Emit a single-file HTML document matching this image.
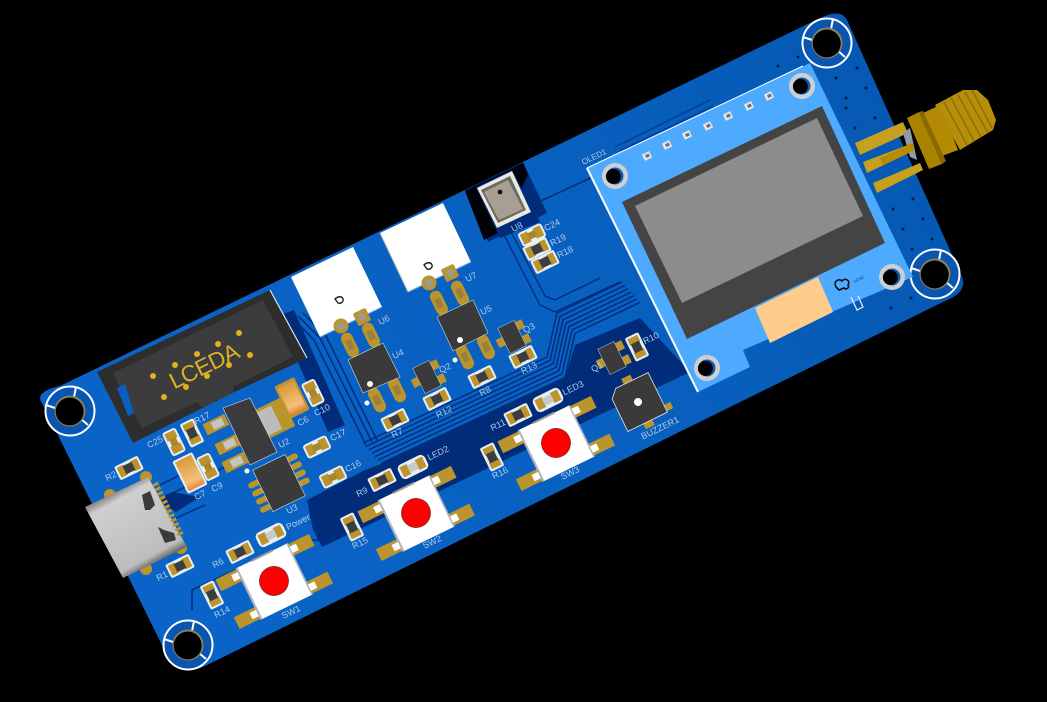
<!DOCTYPE html>
<html><head><meta charset="utf-8">
<style>
html,body{margin:0;padding:0;background:#000;width:1047px;height:702px;overflow:hidden}
svg{display:block}
text{font-family:"Liberation Sans",sans-serif;fill:#b4cbe6;font-size:9px;text-anchor:middle;dominant-baseline:central}
</style></head><body>
<svg width="1047" height="702" viewBox="0 0 1047 702" xmlns="http://www.w3.org/2000/svg">
<defs>
<linearGradient id="board" gradientUnits="userSpaceOnUse" x1="60" y1="500" x2="950" y2="150"><stop offset="0" stop-color="#0a64c8"/><stop offset=".6" stop-color="#0860bf"/><stop offset="1" stop-color="#0558b2"/></linearGradient>
<linearGradient id="usb" gradientUnits="userSpaceOnUse" x1="116" y1="492" x2="155" y2="563"><stop offset="0" stop-color="#8d8d8d"/><stop offset=".1" stop-color="#cfcfcf"/><stop offset=".5" stop-color="#c6c6c6"/><stop offset=".9" stop-color="#bdbdbd"/><stop offset="1" stop-color="#6c6c6c"/></linearGradient>
<linearGradient id="tan" x1="0" y1="0" x2="1" y2="0"><stop offset="0" stop-color="#d89a3a"/><stop offset=".75" stop-color="#f4c078"/><stop offset="1" stop-color="#e8853c"/></linearGradient>
<g id="r"><rect x="-13" y="-7.5" width="26" height="15" rx="2" fill="#e8eef5"/><rect x="-11" y="-5.5" width="7" height="11" fill="#bb942e"/><rect x="4" y="-5.5" width="7" height="11" fill="#bb942e"/><rect x="-5" y="-4.5" width="10" height="9" fill="#3b3d40"/></g>
<g id="c"><rect x="-13" y="-7.5" width="26" height="15" rx="3" fill="#e8eef5"/><rect x="-11" y="-5.5" width="8" height="11" fill="#bb942e"/><rect x="3" y="-5.5" width="8" height="11" fill="#bb942e"/><rect x="-4" y="-3.5" width="8" height="7" fill="#a8862c"/></g>
<g id="led"><rect x="-15" y="-8" width="30" height="16" rx="5" fill="#e8eef5"/><rect x="-12.5" y="-5.5" width="8" height="11" fill="#bb942e"/><rect x="4.5" y="-5.5" width="8" height="11" fill="#bb942e"/><rect x="-5" y="-4" width="10" height="8" fill="#c9c9c9"/></g>
<g id="sw">
<rect x="-52" y="-27" width="26" height="13" fill="#bb942e"/><rect x="26" y="-27" width="26" height="13" fill="#bb942e"/>
<rect x="-52" y="15" width="26" height="13" fill="#bb942e"/><rect x="26" y="15" width="26" height="13" fill="#bb942e"/>
<rect x="-36" y="-24" width="12" height="7" fill="#fff"/><rect x="24" y="-24" width="12" height="7" fill="#fff"/>
<rect x="-36" y="18" width="12" height="7" fill="#fff"/><rect x="24" y="18" width="12" height="7" fill="#fff"/>
<rect x="-29" y="-28" width="58" height="57" fill="#fff"/>
<rect x="-29" y="-28" width="2" height="57" fill="#aeb4bb"/><rect x="27.5" y="-28" width="1.5" height="57" fill="#aeb4bb"/>
<rect x="-12" y="-29" width="24" height="2" fill="#9a9a9a"/>
<circle cx="0" cy="0" r="14.5" fill="#f00" stroke="#7a3030" stroke-width=".8"/>
</g>
<g id="hole"><circle r="24.5" fill="#0a55b0" stroke="#fff" stroke-width="2"/>
<path d="M-24,-6L-15,-3M6,-24L4,-14M18,14L11,8" stroke="#fff" stroke-width="2" fill="none"/>
<circle r="15.5" fill="#8a8258"/><circle r="14" cx="-.3" cy=".5" fill="#000"/></g>
<g id="ohole"><circle r="13" fill="#cfcfcf"/><circle r="8.5" fill="#0b5fb8"/><circle r="7.5" cx="-1.6" cy=".4" fill="#000"/></g>
<g id="q"><rect x="-16" y="-4.5" width="7" height="9" fill="#bb942e"/><rect x="9" y="3.5" width="7" height="9" fill="#bb942e"/><rect x="9" y="-12" width="7" height="9" fill="#bb942e"/><rect x="-9" y="-14" width="18" height="28" fill="#3a3a3a" stroke="#ccd" stroke-width=".5"/></g>
<g id="oval"><rect x="-6" y="-13" width="12" height="26" rx="6" fill="#bb942e"/><rect x="-3" y="-5" width="6" height="10" fill="#99803f"/></g>
<path id="bus" d="M363,443L547,357L557,313L622,282" fill="none" stroke="#012c7a" stroke-width="1.4"/>
<g id="pin"><rect x="-4" y="-3.5" width="8" height="7" fill="#e6e6e6"/><rect x="-1.5" y="-1.5" width="4" height="3" fill="#6e6e6e"/></g>
</defs>
<rect width="1047" height="702" fill="#000"/>

<path d="M60,386L820,18Q841,8 847,20L962,277Q968,292 945,301L205,666Q183,677 163,647L42,403Q34,392 60,386Z" fill="url(#board)"/>

<!-- dark navy zones -->
<path d="M307,500L365,470L381,464L565,378L575,345L640,318L690,372L322,547L313,530Z" fill="#012c7a"/>
<path d="M155,500L172,492L200,497L176,512Z" fill="#012c7a"/>
<path d="M278,316L294,310L345,425L328,432Z" fill="#012c7a"/>
<path d="M465,190L523,162L547,213L488,242Z" fill="#012c7a"/>
<path d="M465,191L523,163L528,175L500,232L484,240Z" fill="#000" opacity=".95"/>
<path d="M476,187L512,170L540,222L500,238Z" fill="#012c7a"/>

<!-- traces -->
<use href="#bus"/><use href="#bus" x="3" y="3.4"/><use href="#bus" x="6" y="6.8"/><use href="#bus" x="9" y="10.2"/><use href="#bus" x="12" y="13.6"/><use href="#bus" x="15" y="17"/><use href="#bus" x="18" y="20.4"/>
<path d="M293,318L314,340L366,445M298,316L320,338L372,442M303,313L326,336L377,440" fill="none" stroke="#012c7a" stroke-width="1.5"/>
<path d="M503,233L540,305L555,312L620,282M510,230L545,296L555,300L600,278" fill="none" stroke="#012c7a" stroke-width="1.3"/>
<path d="M530,206L597,175" fill="none" stroke="#012c7a" stroke-width="1.5"/>
<path d="M615,147L710,100M620,151L713,106M624,156L716,111" fill="none" stroke="#023e95" stroke-width="1.5"/>
<path d="M165,497L255,452M172,520L205,505M160,485L190,470" fill="none" stroke="#012c7a" stroke-width="1.5"/>
<path d="M192,610L192,590L300,540L328,540" fill="none" stroke="#012c7a" stroke-width="1.5"/>

<!-- vias -->
<g fill="#012040">
<circle cx="778" cy="66" r="1.5"/><circle cx="798" cy="57" r="1.5"/><circle cx="836" cy="78" r="1.5"/><circle cx="857" cy="68" r="1.5"/><circle cx="846" cy="98" r="1.5"/><circle cx="866" cy="88" r="1.5"/><circle cx="846" cy="108" r="1.5"/><circle cx="875" cy="118" r="1.5"/><circle cx="855" cy="128" r="1.5"/><circle cx="913" cy="199" r="1.5"/><circle cx="893" cy="209" r="1.5"/><circle cx="923" cy="219" r="1.5"/><circle cx="903" cy="229" r="1.5"/><circle cx="932" cy="239" r="1.5"/><circle cx="912" cy="249" r="1.5"/><circle cx="891" cy="308" r="1.5"/><circle cx="911" cy="298" r="1.5"/>
</g>

<!-- holes -->
<use href="#hole" x="70" y="411"/><use href="#hole" x="188" y="645"/><use href="#hole" x="827" y="43"/><use href="#hole" x="935" y="274"/>

<!-- OLED -->
<path d="M587,168L810,63L913,277L743,350L750,367L698,392Z" fill="#4daaff"/>
<path d="M587,168L698,392" stroke="#fff" stroke-width="2" fill="none"/>
<path d="M587,168L803,66" stroke="#fff" stroke-width="1" fill="none"/>
<path d="M622,202L822,106L885,243L687,339Z" fill="#444"/>
<path d="M635,206L817,118L863,216L682,303Z" fill="#8c8c8c"/>
<path d="M755,308L818,277L833,312L770,343Z" fill="#ffcc8c"/>
<use href="#ohole" x="615" y="176"/><use href="#ohole" x="802" y="86"/><use href="#ohole" x="892" y="277"/><use href="#ohole" x="707" y="368"/>
<use href="#pin" transform="translate(647,156) rotate(-26)"/><use href="#pin" transform="translate(667,145) rotate(-26)"/><use href="#pin" transform="translate(687,135) rotate(-26)"/><use href="#pin" transform="translate(708,126) rotate(-26)"/><use href="#pin" transform="translate(728,116) rotate(-26)"/><use href="#pin" transform="translate(749,106) rotate(-26)"/><use href="#pin" transform="translate(769,96) rotate(-26)"/>
<text transform="translate(594,157) rotate(-26)" style="font-size:8px">OLED1</text>
<path d="M836,287c-3,-6 3,-9 6,-6c3,-4 9,0 6,4c2,3 -2,5 -4,3l-5,2z" fill="none" stroke="#111" stroke-width="1.6"/>
<text transform="translate(859,279) rotate(-26)" style="font-size:4px;fill:#124">LCSC</text>
<path d="M851,297L857,310L863,307L858,296" fill="none" stroke="#eef" stroke-width="1.2"/>

<!-- SMA -->
<path d="M855,143L903,122L908,133L860,155Z" fill="#c8a020"/>
<path d="M863,162L913,143L915,150L867,173Z" fill="#c8a020"/>
<path d="M873,183L920,163L923,170L877,193Z" fill="#c8a020"/>
<path d="M903,133L910,128L917,160L910,157Z" fill="#8f9aa8"/>
<path d="M880,158L912,143L915,150L883,165Z" fill="#b88a00"/>
<path d="M935,105L963,90L977,90L988,100L996,120L993,130L960,150Z" fill="#b78e0a"/>
<path d="M944,102L967,145M951,98L974,141M958,95L981,137M965,92L988,133M972,90L992,128" stroke="#8f6f05" stroke-width="1.5" fill="none"/>
<path d="M923,113L940,105L958,150L942,156Z" fill="#b48a04"/>
<path d="M907,118L919,112L942,164L929,169Z" fill="#a98300"/>
<path d="M919,112L923,111L946,161L942,164Z" fill="#8a6a00"/>

<!-- IDC -->
<path d="M97,372L270,290L307,358L228,395L133,443Z" fill="#2d2d2d"/>
<path d="M113,373L263,300L293,357L233,387L233,393L203,408L197,402L142,428Z" fill="#3c3c3c"/>
<path d="M117,388L125,384L134,413L128,416Z" fill="#0a5ec0"/>
<path d="M270,290L307,358" stroke="#e0e4ea" stroke-width="1.2"/>
<g fill="#e0b020"><circle cx="153" cy="376" r="3"/><circle cx="175" cy="365" r="3"/><circle cx="197" cy="354" r="3"/><circle cx="218" cy="344" r="3"/><circle cx="239" cy="333" r="3"/><circle cx="164" cy="397" r="3"/><circle cx="186" cy="387" r="3"/><circle cx="207" cy="376" r="3"/><circle cx="229" cy="365" r="3"/><circle cx="250" cy="355" r="3"/></g>
<text transform="translate(204,366) rotate(-26)" style="font-size:23px;fill:#dcb224;font-weight:normal;letter-spacing:-.5px">LCEDA</text>

<!-- USB -->
<circle cx="110" cy="495" r="6" fill="#bb942e"/><circle cx="146" cy="477" r="6" fill="#bb942e"/><circle cx="181" cy="548" r="6" fill="#bb942e"/><circle cx="146" cy="569" r="6" fill="#bb942e"/>
<path d="M85,507L148,477L187,547L123,578Z" fill="url(#usb)"/>
<path d="M142,495L150,491L155,505L150,510L145,510Z" fill="#3b3b3b"/><path d="M158,527L164,530L174,533L176,540L165,543Z" fill="#3b3b3b"/>
<path d="M155,483L182,537" stroke="#bb942e" stroke-width="6" stroke-dasharray="3 2" fill="none"/>

<!-- U2 U3 -->
<g transform="translate(215,425) rotate(-26)"><rect x="-11" y="-6" width="24" height="12" fill="#bb942e"/><rect x="-3" y="-4" width="12" height="8" fill="#c4c4c4"/></g>
<g transform="translate(227,445) rotate(-26)"><rect x="-11" y="-6" width="24" height="12" fill="#bb942e"/><rect x="-3" y="-4" width="12" height="8" fill="#c4c4c4"/></g>
<g transform="translate(234,463) rotate(-26)"><rect x="-11" y="-6" width="24" height="12" fill="#bb942e"/><rect x="-3" y="-4" width="12" height="8" fill="#c4c4c4"/></g>
<g transform="translate(273,419) rotate(-26)"><rect x="-17" y="-16" width="34" height="32" fill="#bb942e"/><rect x="-12" y="-13" width="16" height="26" fill="#bcbcbc"/></g>
<path d="M223,408L250,398L277,452L250,465Z" fill="#3b3b3b" stroke="#dde" stroke-width=".6"/>
<g transform="translate(279,483) rotate(-26)">
<g fill="#bb942e"><rect x="-29" y="-13" width="12" height="6" rx="3"/><rect x="-29" y="-4" width="12" height="6" rx="3"/><rect x="-29" y="5" width="12" height="6" rx="3"/><rect x="-29" y="14" width="12" height="6" rx="3"/><rect x="17" y="-20" width="12" height="6" rx="3"/><rect x="17" y="-11" width="12" height="6" rx="3"/><rect x="17" y="-2" width="12" height="6" rx="3"/><rect x="17" y="7" width="12" height="6" rx="3"/></g>
<rect x="-18" y="-23" width="36" height="46" fill="#3a3a3a" stroke="#dde" stroke-width=".6"/>
</g>
<circle cx="247" cy="471" r="2.5" fill="#fff"/>

<!-- Caps -->
<g transform="translate(190,473) rotate(64)"><rect x="-18" y="-11" width="36" height="22" rx="2" fill="#e8eef5"/><rect x="-16" y="-9" width="32" height="18" fill="url(#tan)"/></g>
<g transform="translate(292,398) rotate(64)"><rect x="-18" y="-11" width="36" height="22" rx="2" fill="#bb942e"/><rect x="-15" y="-9" width="30" height="18" fill="url(#tan)"/></g>
<use href="#c" transform="translate(313,393) rotate(64)"/>
<use href="#c" transform="translate(174,442) rotate(64)"/>
<use href="#r" transform="translate(192,433) rotate(64)"/>
<use href="#c" transform="translate(208,467) rotate(64)"/>
<use href="#c" transform="translate(317,447) rotate(-26)"/>
<use href="#c" transform="translate(333,477) rotate(-26)"/>
<use href="#r" transform="translate(129,468) rotate(-26)"/>
<use href="#r" transform="translate(180,566) rotate(-26)"/>
<use href="#r" transform="translate(240,552) rotate(-26)"/>
<use href="#r" transform="translate(212,595) rotate(64)"/>
<use href="#led" transform="translate(271,535) rotate(-26)"/>

<!-- Switches -->
<use href="#sw" transform="translate(274,581) rotate(-26)"/>
<use href="#sw" transform="translate(416,513) rotate(-26)"/>
<use href="#sw" transform="translate(556,443) rotate(-26)"/>
<use href="#led" transform="translate(413,467) rotate(-26)"/>
<use href="#led" transform="translate(548,400) rotate(-26)"/>
<use href="#r" transform="translate(382,480) rotate(-26)"/>
<use href="#r" transform="translate(518,415) rotate(-26)"/>
<use href="#r" transform="translate(352,527) rotate(64)"/>
<use href="#r" transform="translate(492,457) rotate(64)"/>

<!-- Buzzer -->
<g transform="translate(638,402) rotate(-26)">
<rect x="-5" y="-28" width="10" height="7" fill="#bb942e"/><rect x="-5" y="21" width="10" height="7" fill="#bb942e"/><rect x="20" y="14" width="9" height="7" fill="#bb942e"/>
<path d="M-14,-22L22,-22L22,22L-22,22L-22,-14Z" fill="#3a3a3a" stroke="#e6e6e6" stroke-width=".8"/>
<circle r="4" fill="#fff"/>
</g>

<!-- modules -->
<path d="M291,277L353,247L382,307L320,337Z" fill="#fff"/>
<path d="M380,233L443,203L471,262L408,292Z" fill="#fff"/>
<path d="M320,337L382,307" stroke="#7ab0e8" stroke-width="1"/><path d="M408,292L471,262" stroke="#7ab0e8" stroke-width="1"/>
<path d="M380,233L408,292" stroke="#bbb" stroke-width="1"/>
<path d="M335,299c3,-3 7,-3 8,0c1,3 -3,5 -5,4z" fill="none" stroke="#222" stroke-width="1.4"/>
<path d="M424,265c3,-3 7,-3 8,0c1,3 -3,5 -5,4z" fill="none" stroke="#222" stroke-width="1.4"/>
<g><circle cx="341" cy="326" r="7.5" fill="#bb942e"/><circle cx="341" cy="326" r="4" fill="#9c9c8c"/><rect x="355" y="310" width="14" height="14" rx="2" fill="#bb942e" transform="rotate(-26 362 317)"/><circle cx="362" cy="317" r="4" fill="#9c9c8c"/>
<circle cx="429" cy="283" r="7.5" fill="#bb942e"/><circle cx="429" cy="283" r="4" fill="#9c9c8c"/><rect x="443" y="266" width="14" height="14" rx="2" fill="#bb942e" transform="rotate(-26 450 273)"/><circle cx="450" cy="273" r="4" fill="#9c9c8c"/></g>

<!-- U4 U5 -->
<use href="#oval" transform="translate(350,345) rotate(-26)"/><use href="#oval" transform="translate(371,335) rotate(-26)"/><use href="#oval" transform="translate(377,400) rotate(-26)"/><use href="#oval" transform="translate(397,390) rotate(-26)"/>
<use href="#oval" transform="translate(439,303) rotate(-26)"/><use href="#oval" transform="translate(460,293) rotate(-26)"/><use href="#oval" transform="translate(465,357) rotate(-26)"/><use href="#oval" transform="translate(486,347) rotate(-26)"/>
<path d="M348,360L383,343L400,377L363,393Z" fill="#3a3a3a" stroke="#cdd" stroke-width=".6"/><circle cx="370" cy="384" r="3" fill="#fff"/><circle cx="367" cy="403" r="2.5" fill="#fff"/>
<path d="M437,317L473,300L488,333L453,351Z" fill="#3a3a3a" stroke="#cdd" stroke-width=".6"/><circle cx="460" cy="340" r="3" fill="#fff"/><circle cx="455" cy="360" r="2.5" fill="#fff"/>
<use href="#q" transform="translate(427,377) rotate(-26)"/><use href="#q" transform="translate(512,337) rotate(-26)"/><use href="#q" transform="translate(612,358) rotate(-26)"/>
<use href="#r" transform="translate(395,420) rotate(-26)"/><use href="#r" transform="translate(437,399) rotate(-26)"/><use href="#r" transform="translate(482,377) rotate(-26)"/><use href="#r" transform="translate(523,357) rotate(-26)"/>
<use href="#c" transform="translate(532,235) rotate(-26)"/><use href="#r" transform="translate(537,249) rotate(-26)"/><use href="#r" transform="translate(545,262) rotate(-26)"/>
<use href="#r" transform="translate(637,347) rotate(64)"/>

<!-- U8 -->
<path d="M477,188L512,171L531,212L497,228Z" fill="#ece8e2"/>
<path d="M481,190L510,176L526,210L498,223Z" fill="#6f6a60"/>
<path d="M484,192L508,180L523,209L499,220Z" fill="#a89f94"/>
<circle cx="500" cy="192" r="2.4" fill="#111"/>

<!-- labels -->
<g>
<text transform="translate(517,227) rotate(-26)">U8</text><text transform="translate(552,225) rotate(-26)">C24</text><text transform="translate(558,240) rotate(-26)">R19</text><text transform="translate(565,252) rotate(-26)">R18</text>
<text transform="translate(471,277) rotate(-26)">U7</text><text transform="translate(384,320) rotate(-26)">U6</text><text transform="translate(486,310) rotate(-26)">U5</text><text transform="translate(398,354) rotate(-26)">U4</text>
<text transform="translate(445,368) rotate(-26)">Q2</text><text transform="translate(529,328) rotate(-26)">Q3</text><text transform="translate(529,368) rotate(-26)">R13</text><text transform="translate(485,391) rotate(-26)">R8</text><text transform="translate(444,412) rotate(-26)">R12</text><text transform="translate(397,433) rotate(-26)">R7</text>
<text transform="translate(322,410) rotate(-26)">C10</text><text transform="translate(303,421) rotate(-26)">C6</text><text transform="translate(284,443) rotate(-26)">U2</text><text transform="translate(338,435) rotate(-26)">C17</text><text transform="translate(353,466) rotate(-26)">C16</text><text transform="translate(292,509) rotate(-26)">U3</text>
<text transform="translate(298,522) rotate(-26)">Power</text><text transform="translate(111,476) rotate(-26)">R2</text><text transform="translate(162,576) rotate(-26)">R1</text><text transform="translate(218,563) rotate(-26)">R6</text><text transform="translate(222,612) rotate(-26)">R14</text><text transform="translate(291,612) rotate(-26)">SW1</text>
<text transform="translate(155,442) rotate(-26)">C25</text><text transform="translate(202,418) rotate(-26)">R17</text><text transform="translate(200,495) rotate(-26)">C7</text><text transform="translate(217,487) rotate(-26)">C9</text>
<text transform="translate(360,543) rotate(-26)">R15</text><text transform="translate(362,492) rotate(-26)">R9</text><text transform="translate(438,453) rotate(-26)">LED2</text><text transform="translate(498,425) rotate(-26)">R11</text><text transform="translate(573,388) rotate(-26)">LED3</text><text transform="translate(500,473) rotate(-26)">R16</text><text transform="translate(432,542) rotate(-26)">SW2</text><text transform="translate(570,473) rotate(-26)">SW3</text><text transform="translate(660,428) rotate(-26)">BUZZER1</text>
<text transform="translate(597,367) rotate(-26)">Q1</text><text transform="translate(651,338) rotate(-26)">R10</text>
</g>
</svg>
</body></html>
